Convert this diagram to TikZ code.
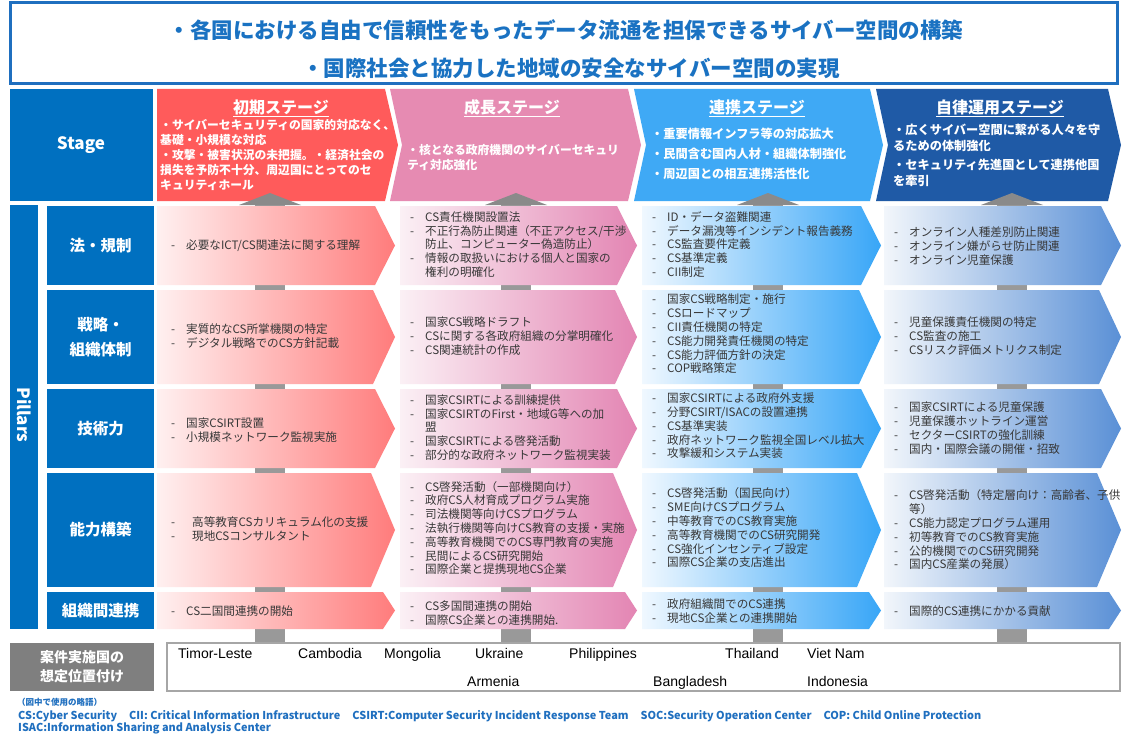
\documentclass[tikz,border=0pt]{standalone}
\usepackage{fontspec}
\setmainfont{Noto Sans CJK JP}
\newfontfamily\arialf{Liberation Sans}
\definecolor{topblue}{HTML}{1F6FBF}
\definecolor{toptext}{HTML}{1A72C2}
\definecolor{boxblue}{HTML}{0070C0}
\definecolor{stA}{HTML}{FF5B5B}
\definecolor{stB}{HTML}{E68BB2}
\definecolor{stC}{HTML}{3FA9F5}
\definecolor{stD}{HTML}{1F5AA6}
\definecolor{gA}{HTML}{FF7C7C}
\definecolor{gB}{HTML}{E385B3}
\definecolor{gC}{HTML}{38A6F7}
\definecolor{gD}{HTML}{5A90D6}
\definecolor{lA}{HTML}{FFF0F0}
\definecolor{lB}{HTML}{FBF0F5}
\definecolor{lC}{HTML}{F0F8FF}
\definecolor{lD}{HTML}{F2F6FB}
\definecolor{barg}{HTML}{999999}
\definecolor{headg}{HTML}{8A8A8A}
\definecolor{txt}{HTML}{383838}
\definecolor{labgray}{HTML}{7F7F7F}
\definecolor{abbrblue}{HTML}{1F6FBF}
% chevron: [style]{x1}{x2}{y1}{y2}{tip depth}{notch depth}
\newcommand\chev[7][]{\path[#1] (#2,#4) -- (#3-#6,#4) -- (#3,{(#4+#5)/2}) -- (#3-#6,#5) -- (#2,#5) -- (#2+#7,{(#4+#5)/2}) -- cycle;}
\newcommand\dsh{\makebox[15pt][l]{-}}
\newcommand\hng{\hspace*{15pt}}
\begin{document}
\begin{tikzpicture}[x=1pt,y=-1pt,
  lbl/.style={text=white,font=\fontsize{15.5}{25}\selectfont\bfseries,align=center,inner sep=0pt},
  ctext/.style={anchor=west,text=txt,font=\fontsize{11.6}{13.8}\selectfont,align=left,inner sep=0pt},
  stext/.style={anchor=north west,text=white,font=\fontsize{11.8}{15}\selectfont\bfseries,align=left,inner sep=0pt},
  sttitle/.style={text=white,font=\fontsize{16}{18}\selectfont\bfseries,inner sep=0pt},
  ctry/.style={anchor=base west,font=\arialf\fontsize{14}{16}\selectfont,inner sep=0pt},
  abbr/.style={anchor=west,text=abbrblue,font=\fontsize{10.9}{12}\selectfont\bfseries,inner sep=0pt},
  toptxt/.style={text=toptext,font=\fontsize{21.5}{24}\selectfont\bfseries,inner sep=0pt}]
\useasboundingbox (0,0) rectangle (1123,733);
\fill[white] (0,0) rectangle (1123,733);

% top box
\draw[topblue,line width=3pt] (10,3) rectangle (1117,84);
\node[toptxt] (goal1) at (566,30) {・各国における自由で信頼性をもったデータ流通を担保できるサイバー空間の構築};
\node[toptxt] (goal2) at (571,68) {・国際社会と協力した地域の安全なサイバー空間の実現};

% gray bars (behind)
\foreach \c in {270,516,768,1012} {
  \fill[barg] (\c-15,200) rectangle (\c+15,643);
}

% stage box
\fill[boxblue] (10,89) rectangle (153,201);
\node[text=white,font=\fontsize{17}{20}\selectfont\bfseries] (stage) at (81,145) {Stage};

% stage chevrons
\chev[fill=stA]{157}{398}{89}{201}{13}{0}
\chev[fill=stB]{390}{641}{89}{201}{13}{12}
\chev[fill=stC]{634}{883}{89}{201}{13}{12}
\chev[fill=stD]{876}{1121}{89}{201}{13}{12}

% arrow heads
\foreach \c in {270,516,768,1012} {
  \fill[headg] (\c-31,205) -- (\c,193) -- (\c+31,205) -- cycle;
}

\node[sttitle] (tA) at (281,108) {\underline{初期ステージ}};
\node[sttitle] (tB) at (512,108) {\underline{成長ステージ}};
\node[sttitle] (tC) at (757,108) {\underline{連携ステージ}};
\node[sttitle] (tD) at (1000,108) {\underline{自律運用ステージ}};

\node[stext] (sA) at (160,119) {・サイバーセキュリティの国家的対応なく、\\基礎・小規模な対応\\・攻撃・被害状況の未把握。・経済社会の\\損失を予防不十分、周辺国にとってのセ\\キュリティホール};
\node[stext] (sB) at (407,144) {・核となる政府機関のサイバーセキュリ\\ティ対応強化};
\node[stext,font=\fontsize{12.2}{20}\selectfont\bfseries] (sC) at (651,128) {・重要情報インフラ等の対応拡大\\・民間含む国内人材・組織体制強化\\・周辺国との相互連携活性化};
\node[stext,font=\fontsize{12.2}{16}\selectfont\bfseries] (sD) at (893,124) {・広くサイバー空間に繋がる人々を守\\るための体制強化\\[3pt]・セキュリティ先進国として連携他国\\を牽引};

% pillars bar
\fill[boxblue] (10,205) rectangle (38,629);
\node[text=white,font=\fontsize{17}{20}\selectfont\bfseries,rotate=-90] (pillars) at (24,415) {Pillars};

% row label boxes
\fill[boxblue] (47,206) rectangle (154,285);
\fill[boxblue] (47,290) rectangle (154,384);
\fill[boxblue] (47,389) rectangle (154,468);
\fill[boxblue] (47,473) rectangle (154,587);
\fill[boxblue] (47,592) rectangle (154,629);
\node[lbl] (r1) at (100.5,245.5) {法・規制};
\node[lbl] (r2) at (100.5,337) {戦略・\\組織体制};
\node[lbl] (r3) at (100.5,428.5) {技術力};
\node[lbl] (r4) at (100.5,530) {能力構築};
\node[lbl] (r5) at (100.5,610.5) {組織間連携};

% content chevrons
\foreach \ya/\yb/\d in {206/285/20,290/384/22,389/468/20,473/587/24,592/629/12} {
  \chev[shade,left color=lA,right color=gA]{157}{395}{\ya}{\yb}{\d}{0}
  \chev[shade,left color=lB,right color=gB]{400}{637}{\ya}{\yb}{\d}{0}
  \chev[shade,left color=lC,right color=gC]{642}{881}{\ya}{\yb}{\d}{0}
  \chev[shade,left color=lD,right color=gD]{884}{1121}{\ya}{\yb}{\d}{0}
}

% column A
\node[ctext] (a1) at (171,245.5) {\dsh 必要なICT/CS関連法に関する理解};
\node[ctext] (a2) at (171,336) {\dsh 実質的なCS所掌機関の特定\\\dsh デジタル戦略でのCS方針記載};
\node[ctext] (a3) at (171,430) {\dsh 国家CSIRT設置\\\dsh 小規模ネットワーク監視実施};
\node[ctext] (a4) at (171,529) {\makebox[21pt][l]{-}高等教育CSカリキュラム化の支援\\\makebox[21pt][l]{-}現地CSコンサルタント};
\node[ctext] (a5) at (171,611) {\dsh CS二国間連携の開始};

% column B
\node[ctext] (b1) at (410,244.5) {\dsh CS責任機関設置法\\\dsh 不正行為防止関連（不正アクセス/干渉\\\hng 防止、コンピューター偽造防止）\\\dsh 情報の取扱いにおける個人と国家の\\\hng 権利の明確化};
\node[ctext] (b2) at (410,336) {\dsh 国家CS戦略ドラフト\\\dsh CSに関する各政府組織の分掌明確化\\\dsh CS関連統計の作成};
\node[ctext] (b3) at (410,427.5) {\dsh 国家CSIRTによる訓練提供\\\dsh 国家CSIRTのFirst・地域G等への加\\\hng 盟\\\dsh 国家CSIRTによる啓発活動\\\dsh 部分的な政府ネットワーク監視実装};
\node[ctext] (b4) at (410,528) {\dsh CS啓発活動（一部機関向け）\\\dsh 政府CS人材育成プログラム実施\\\dsh 司法機関等向けCSプログラム\\\dsh 法執行機関等向けCS教育の支援・実施\\\dsh 高等教育機関でのCS専門教育の実施\\\dsh 民間によるCS研究開始\\\dsh 国際企業と提携現地CS企業};
\node[ctext] (b5) at (410,613) {\dsh CS多国間連携の開始\\\dsh 国際CS企業との連携開始.};

% column C
\node[ctext] (c1) at (652,244.5) {\dsh ID・データ盗難関連\\\dsh データ漏洩等インシデント報告義務\\\dsh CS監査要件定義\\\dsh CS基準定義\\\dsh CII制定};
\node[ctext] (c2) at (652,334) {\dsh 国家CS戦略制定・施行\\\dsh CSロードマップ\\\dsh CII責任機関の特定\\\dsh CS能力開発責任機関の特定\\\dsh CS能力評価方針の決定\\\dsh COP戦略策定};
\node[ctext] (c3) at (652,426) {\dsh 国家CSIRTによる政府外支援\\\dsh 分野CSIRT/ISACの設置連携\\\dsh CS基準実装\\\dsh 政府ネットワーク監視全国レベル拡大\\\dsh 攻撃緩和システム実装};
\node[ctext] (c4) at (652,528) {\dsh CS啓発活動（国民向け）\\\dsh SME向けCSプログラム\\\dsh 中等教育でのCS教育実施\\\dsh 高等教育機関でのCS研究開発\\\dsh CS強化インセンティブ設定\\\dsh 国際CS企業の支店進出};
\node[ctext] (c5) at (652,611) {\dsh 政府組織間でのCS連携\\\dsh 現地CS企業との連携開始};

% column D
\node[ctext] (d1) at (894,246) {\dsh オンライン人種差別防止関連\\\dsh オンライン嫌がらせ防止関連\\\dsh オンライン児童保護};
\node[ctext] (d2) at (894,336) {\dsh 児童保護責任機関の特定\\\dsh CS監査の施工\\\dsh CSリスク評価メトリクス制定};
\node[ctext] (d3) at (894,428) {\dsh 国家CSIRTによる児童保護\\\dsh 児童保護ホットライン運営\\\dsh セクターCSIRTの強化訓練\\\dsh 国内・国際会議の開催・招致};
\node[ctext] (d4) at (894,530) {\dsh CS啓発活動（特定層向け：高齢者、子供\\\hng 等）\\\dsh CS能力認定プログラム運用\\\dsh 初等教育でのCS教育実施\\\dsh 公的機関でのCS研究開発\\\dsh 国内CS産業の発展）};
\node[ctext] (d5) at (894,611) {\dsh 国際的CS連携にかかる貢献};

% bottom: countries
\fill[labgray] (10,643) rectangle (154,691);
\node[text=white,font=\fontsize{14}{19}\selectfont\bfseries,align=center,inner sep=0pt] (place) at (82,667) {案件実施国の\\想定位置付け};
\draw[gray!70,line width=1.2pt,fill=white] (167,643) rectangle (1120,691);
\node[ctry] (k1) at (178,658) {Timor-Leste};
\node[ctry] (k2) at (298,658) {Cambodia};
\node[ctry] (k3) at (384,658) {Mongolia};
\node[ctry] (k4) at (475,658) {Ukraine};
\node[ctry] (k5) at (569,658) {Philippines};
\node[ctry] (k6) at (725,658) {Thailand};
\node[ctry] (k7) at (807,658) {Viet Nam};
\node[ctry] (k8) at (467,686) {Armenia};
\node[ctry] (k9) at (653,686) {Bangladesh};
\node[ctry] (k10) at (807,686) {Indonesia};

% abbreviations
\node[abbr,font=\fontsize{8.5}{10}\selectfont\bfseries] (ab0) at (17,702) {（図中で使用の略語）};
\node[abbr] (ab1) at (18,716) {CS:Cyber Security\hspace{12pt}CII: Critical Information Infrastructure\hspace{12pt}CSIRT:Computer Security Incident Response Team\hspace{12pt}SOC:Security Operation Center\hspace{12pt}COP: Child Online Protection};
\node[abbr] (ab2) at (18,728) {ISAC:Information Sharing and Analysis Center};
\end{tikzpicture}
\end{document}
